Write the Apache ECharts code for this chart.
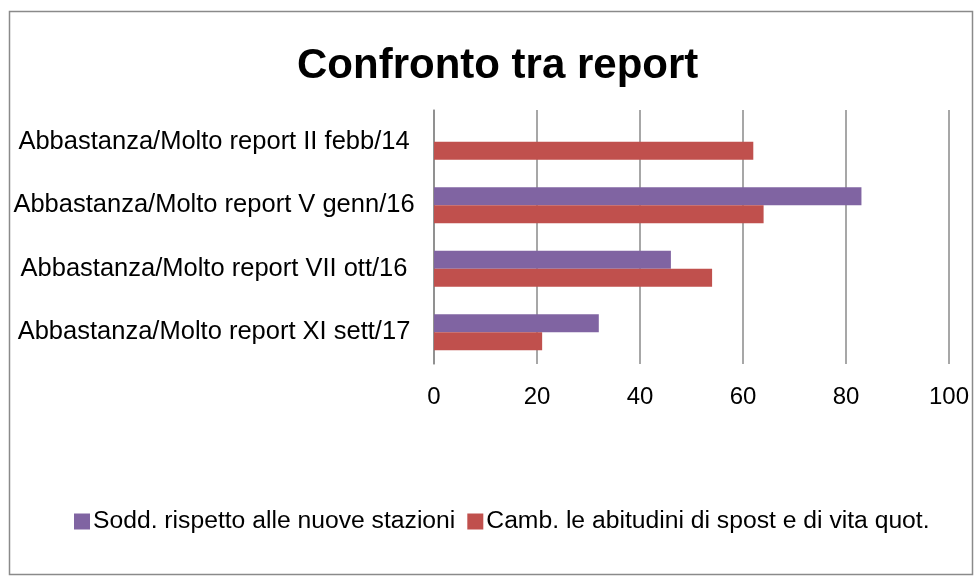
<!DOCTYPE html>
<html><head><meta charset="utf-8">
<script src="https://cdn.jsdelivr.net/npm/echarts@6/dist/echarts.min.js"></script>
<style>html,body{margin:0;padding:0;background:#fff}#c{width:974px;height:576px}</style>
</head><body><div id="c"></div>
<script>
const categories = [
  'Abbastanza/Molto report II febb/14',
  'Abbastanza/Molto report V genn/16',
  'Abbastanza/Molto report VII ott/16',
  'Abbastanza/Molto report XI sett/17'
];
const seriesNames = ['Sodd. rispetto alle nuove stazioni', 'Camb. le abitudini di spost e di vita quot.'];
const soddValues = [null, 83, 46, 32];
const cambValues = [62, 64, 54, 21];
const xTicks = { min: 0, max: 100, interval: 20 };

const chart = echarts.init(document.getElementById('c'), null, { renderer: 'canvas' });
const font = 'Liberation Sans, Arial, sans-serif';
chart.setOption({
  animation: false,
  backgroundColor: '#fff',
  title: {
    text: 'Confronto tra report', left: 292, top: 40,
    textStyle: { fontFamily: font, fontWeight: 'bold', fontSize: 42, color: '#000' }
  },
  graphic: [{
    type: 'rect', shape: { x: 9.5, y: 11.5, width: 963, height: 563 },
    style: { fill: 'none', stroke: '#8a8a8a', lineWidth: 1.5 }, silent: true, z: -1
  }],
  legend: {
    top: 504, left: 69, itemWidth: 16, itemHeight: 16, itemGap: 12,
    icon: 'rect',
    textStyle: { fontFamily: font, fontSize: 24.7, color: '#000', padding: [0, 0, 0, -2] },
    data: seriesNames
  },
  grid: { left: 434, right: 25, top: 110, bottom: 212, containLabel: false },
  xAxis: {
    type: 'value', min: xTicks.min, max: xTicks.max, interval: xTicks.interval,
    axisLine: { show: false }, axisTick: { show: false },
    splitLine: { lineStyle: { color: '#8a8a8a', width: 1.5 } },
    axisLabel: { fontFamily: font, fontSize: 24, color: '#000', margin: 21 }
  },
  yAxis: {
    type: 'category', inverse: true, data: categories,
    axisLine: { show: true, lineStyle: { color: '#8a8a8a', width: 1.5 } },
    axisTick: { show: false },
    axisLabel: { fontFamily: font, fontSize: 25.5, color: '#000', margin: 220, align: 'center' }
  },
  series: [
    { name: seriesNames[0], type: 'bar', data: soddValues, barWidth: 18, barGap: '0%',
      itemStyle: { color: '#8064A2' } },
    { name: seriesNames[1], type: 'bar', data: cambValues, barWidth: 18, barGap: '0%',
      itemStyle: { color: '#C0504D' } }
  ]
});
</script></body></html>
